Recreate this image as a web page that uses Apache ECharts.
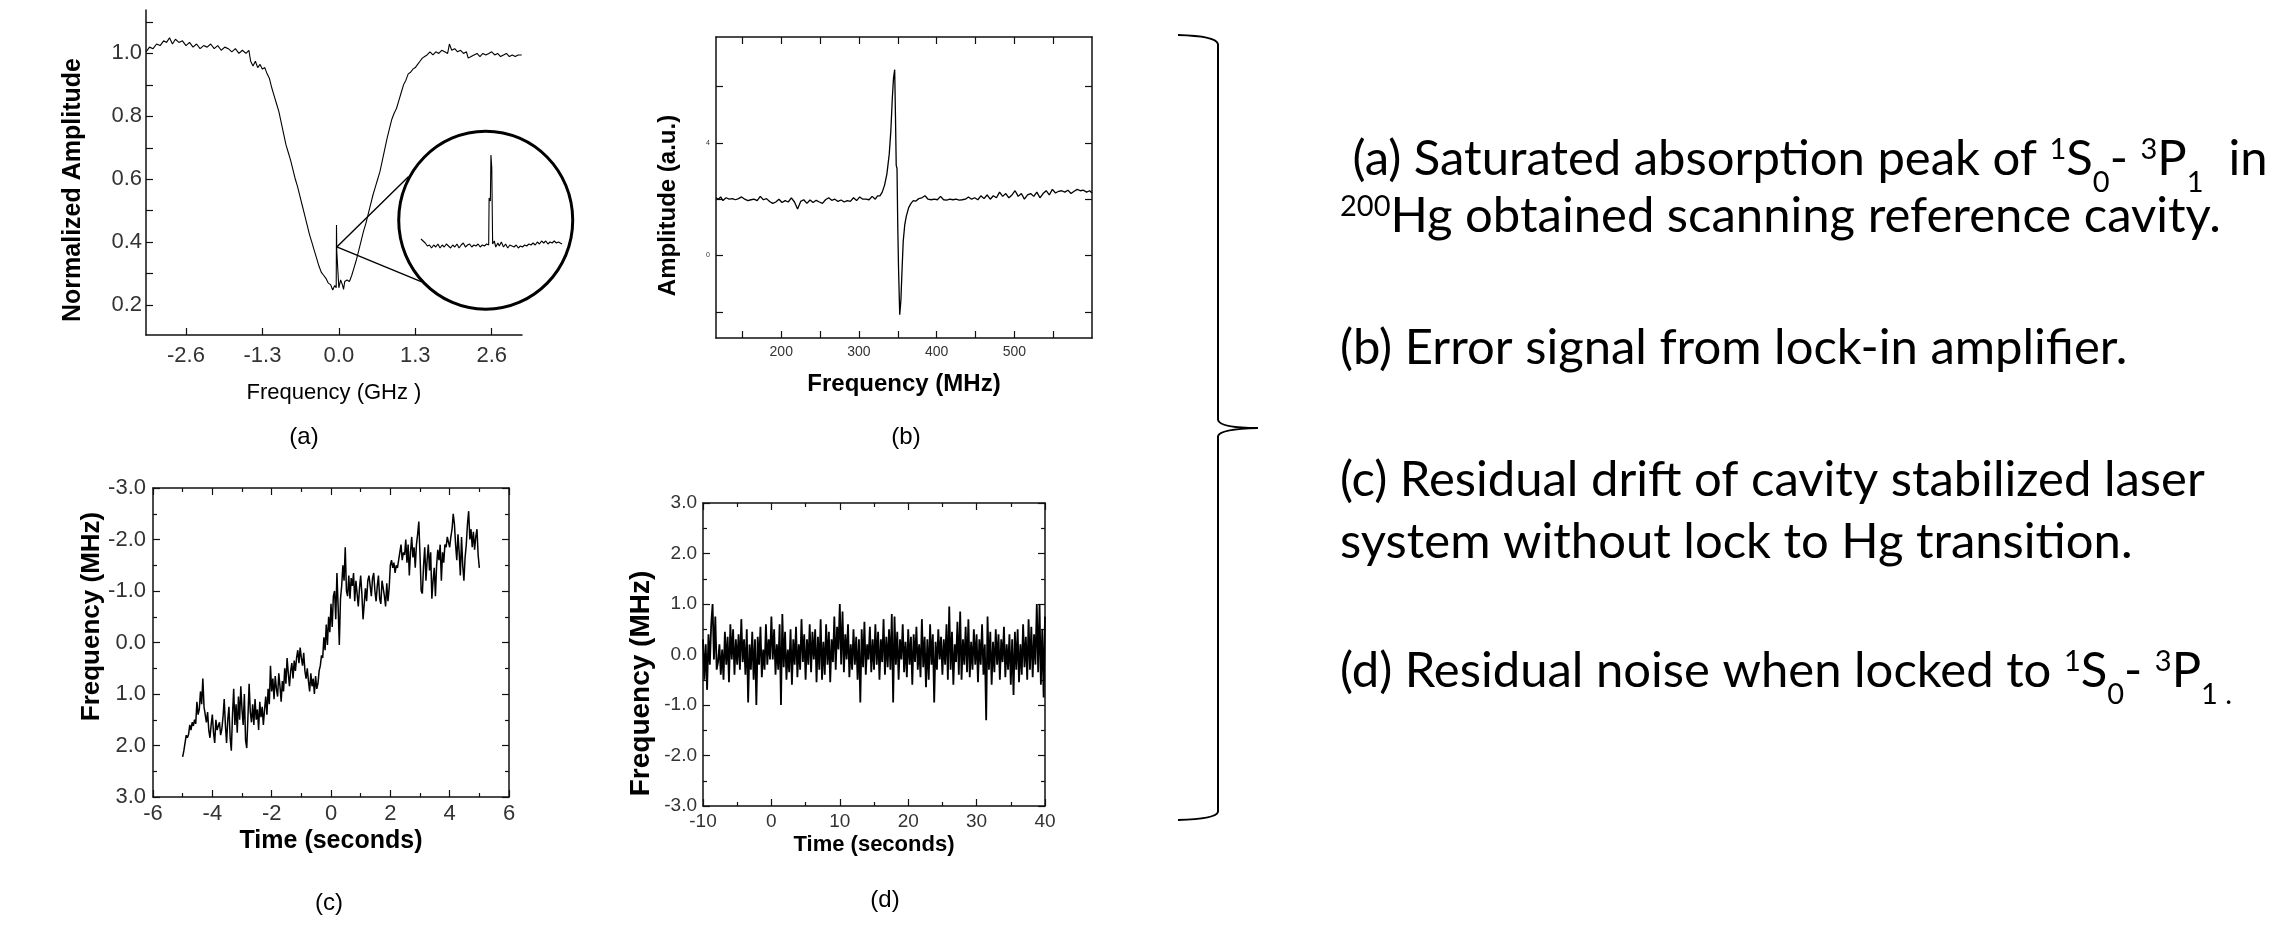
<!DOCTYPE html>
<html>
<head>
<meta charset="utf-8">
<script src="https://cdn.jsdelivr.net/npm/echarts@6.0.0/dist/echarts.min.js"></script>
<style>
  html, body { margin: 0; background: #fff; }
  #chart { width: 2286px; height: 928px; }
</style>
</head>
<body>
<div id="chart"></div>
<script>
// (a) saturated absorption dip, [GHz, normalized amplitude]
const A_CURVE = [
  [-3.28,1.005],[-3.22,1.02],[-3.16,1.015],[-3.1,1.03],[-3.04,1.025],[-2.98,1.04],[-2.93,1.035],[-2.88,1.05],
  [-2.83,1.03],[-2.78,1.045],[-2.72,1.035],[-2.66,1.04],[-2.6,1.025],[-2.54,1.035],[-2.48,1.02],[-2.42,1.03],
  [-2.36,1.015],[-2.3,1.025],[-2.24,1.02],[-2.18,1.03],[-2.12,1.015],[-2.06,1.025],[-2.0,1.01],[-1.94,1.02],
  [-1.88,1.015],[-1.82,1.005],[-1.76,1.015],[-1.7,1.0],[-1.64,1.01],[-1.58,1.0],[-1.53,1.01],[-1.5,0.975],
  [-1.46,0.96],[-1.42,0.975],[-1.38,0.955],[-1.34,0.965],[-1.3,0.95],[-1.26,0.955],[-1.22,0.935],[-1.18,0.92],
  [-1.14,0.89],[-1.1,0.865],[-1.06,0.84],[-1.02,0.815],[-0.98,0.78],[-0.94,0.745],[-0.9,0.71],[-0.86,0.685],
  [-0.82,0.66],[-0.78,0.63],[-0.74,0.6],[-0.7,0.575],[-0.66,0.545],[-0.62,0.515],[-0.58,0.485],[-0.54,0.455],
  [-0.5,0.425],[-0.46,0.4],[-0.42,0.375],[-0.38,0.35],[-0.34,0.325],[-0.3,0.305],[-0.26,0.295],[-0.22,0.285],
  [-0.18,0.27],[-0.14,0.265],[-0.105,0.248],[-0.07,0.262],[-0.045,0.255],[-0.04,0.455],[-0.035,0.37],[-0.005,0.375],
  [0.0,0.255],[0.03,0.28],[0.06,0.265],[0.08,0.25],[0.1,0.275],[0.14,0.28],[0.18,0.275],[0.22,0.295],
  [0.26,0.32],[0.3,0.345],[0.34,0.375],[0.38,0.405],[0.42,0.435],[0.46,0.46],[0.5,0.49],[0.54,0.52],
  [0.58,0.55],[0.62,0.575],[0.66,0.6],[0.7,0.625],[0.74,0.66],[0.78,0.695],[0.82,0.73],[0.86,0.76],
  [0.9,0.79],[0.94,0.81],[0.98,0.825],[1.02,0.85],[1.06,0.875],[1.1,0.9],[1.14,0.915],[1.18,0.935],
  [1.22,0.94],[1.26,0.95],[1.3,0.955],[1.34,0.965],[1.38,0.975],[1.42,0.985],[1.46,0.99],[1.5,0.995],
  [1.55,1.005],[1.6,0.995],[1.65,1.005],[1.7,1.0],[1.75,1.01],[1.8,1.005],[1.85,1.0],[1.88,1.03],
  [1.92,1.01],[1.97,1.015],[2.02,1.005],[2.07,1.01],[2.12,1.0],[2.17,1.005],[2.2,0.985],[2.25,0.99],
  [2.3,0.995],[2.35,1.0],[2.4,0.99],[2.45,1.0],[2.5,0.995],[2.55,1.0],[2.6,1.005],[2.65,0.995],
  [2.7,1.0],[2.75,0.99],[2.8,0.995],[2.85,1.0],[2.9,0.99],[2.95,0.995],[3.0,0.99],[3.05,0.995],[3.11,0.995]
];
// zoom lines from the peak to the magnifier circle (data coords of panel a)
const A_ZOOM_LINES = [[1.183, 0.608], [-0.035, 0.385], [1.41, 0.274]];
const A_LENS_CENTER = [2.498, 0.47];
// magnified peak inside the circle (arbitrary units 0..100, 0..1)
const A_INSET = [
  [0,0.14],[1.5,0.12],[3,0.1],[4.5,0.07],[6,0.08],[7.5,0.05],[9,0.08],[10.5,0.06],[12,0.09],[13.5,0.05],
  [15,0.08],[16.5,0.06],[18,0.09],[19.5,0.07],[21,0.05],[22.5,0.08],[24,0.06],[25.5,0.09],[27,0.05],[28.5,0.08],
  [30,0.1],[31.5,0.06],[33,0.08],[34.5,0.09],[36,0.06],[37.5,0.08],[39,0.07],[40.5,0.09],[42,0.06],[43.5,0.08],
  [45,0.07],[46.5,0.09],[48,0.08],[48.3,0.55],[49.2,0.52],[49.6,0.98],[50.2,0.85],[50.8,0.09],[52,0.12],[53,0.06],
  [54.5,0.1],[55.5,0.07],[57,0.11],[58.5,0.06],[60,0.09],[61.5,0.05],[63,0.08],[64.5,0.07],[66,0.06],[67.5,0.08],
  [69,0.05],[70.5,0.07],[72,0.06],[73.5,0.08],[75,0.07],[76.5,0.09],[78,0.08],[79.5,0.1],[81,0.08],[82.5,0.11],
  [84,0.09],[85.5,0.12],[87,0.1],[88.5,0.12],[90,0.09],[91.5,0.11],[93,0.1],[94.5,0.12],[96,0.1],[97.5,0.11],[100,0.09]
];
const A_X_LABELS = [-2.6, -1.3, 0, 1.3, 2.6];
const A_Y_LABELS = [0.2, 0.4, 0.6, 0.8, 1.0];
const A_Y_TICKS = [0.2, 0.3, 0.4, 0.5, 0.6, 0.7, 0.8, 0.9, 1.0, 1.1];

// (b) lock-in error signal, [MHz, a.u.]
const B_CURVE = [
  [116,2.05],[119,2.0],[122,2.08],[125,1.95],[129,2.05],[133,2.0],[137,2.02],[141,1.98],[145,2.02],[149,2.08],
  [153,2.0],[157,1.95],[161,1.98],[165,2.0],[169,1.95],[173,2.1],[177,1.98],[181,2.02],[185,1.92],[189,1.85],
  [193,1.9],[197,2.0],[201,1.88],[205,1.95],[209,1.9],[213,2.05],[217,1.9],[221,1.65],[225,1.92],[229,1.98],
  [233,1.85],[237,1.97],[241,1.88],[245,1.96],[249,1.9],[253,1.85],[257,1.98],[261,2.05],[265,1.96],[269,2.0],
  [273,1.92],[277,1.97],[281,1.9],[285,1.95],[289,1.92],[293,2.05],[297,1.95],[301,2.08],[305,2.0],[309,2.0],
  [313,1.98],[317,2.1],[321,2.0],[324,2.12],[327,2.12],[330,2.25],[333,2.5],[336,2.9],[339,3.6],[341,4.4],
  [343,5.6],[344.5,6.3],[346,6.6],[347,5.0],[348,3.2],[349,3.1],[350,1.0],[351,-0.5],[352.5,-2.1],[354,-1.6],
  [355.5,-0.5],[357,0.5],[359,1.1],[361,1.4],[364,1.7],[367,1.85],[370,1.95],[373,1.93],[377,2.02],[381,2.05],
  [385,2.12],[389,2.0],[393,1.98],[397,2.0],[401,1.98],[405,2.1],[409,1.98],[413,1.97],[417,2.0],[421,1.98],
  [425,2.0],[429,1.97],[433,1.98],[437,2.0],[441,2.08],[445,2.0],[449,2.05],[453,1.98],[457,2.12],[461,2.02],
  [465,2.15],[469,2.0],[473,2.12],[477,2.05],[481,2.25],[485,2.1],[489,2.2],[493,2.05],[497,2.15],[501,2.3],
  [505,2.1],[509,2.2],[513,2.0],[517,2.15],[521,2.2],[525,2.1],[529,2.25],[533,2.05],[537,2.2],[541,2.3],
  [545,2.15],[549,2.35],[553,2.22],[557,2.28],[561,2.3],[565,2.25],[569,2.32],[573,2.2],[577,2.28],[581,2.35],
  [585,2.3],[589,2.32],[593,2.25],[597,2.3],[600,2.22]
];
const B_X_LABELS = [200, 300, 400, 500];
const B_X_TICKS = [150, 200, 250, 300, 350, 400, 450, 500, 550];
const B_Y_TICKS = [-2, 0, 2, 4, 6];
const B_Y_LABELS = [0, 4];

// (c) free-running drift, sampled every 0.04 s from -5 s [MHz]
const C_T0 = -5, C_DT = 0.04;
const C_VALUES = [
  2.22,2.1,1.95,1.8,1.85,1.78,1.6,1.7,1.55,1.62,1.5,1.58,1.15,1.4,1.3,0.95,1.2,0.7,1.25,1.4,1.55,1.35,1.7,1.85,1.6,
  1.4,1.75,1.95,1.5,1.7,1.62,1.55,1.8,1.68,1.45,1.1,1.6,1.95,1.5,1.25,1.85,2.1,1.4,0.9,1.6,1.2,1.75,1.05,1.5,0.85,
  1.3,1.6,1.0,1.9,2.05,1.45,0.8,1.35,1.55,1.2,1.6,1.1,1.5,1.3,1.7,1.15,1.45,1.25,1.6,1.3,1.05,1.4,0.9,1.2,0.45,
  0.95,0.7,1.1,0.65,0.9,1.05,0.6,0.85,1.15,0.75,0.95,0.5,0.8,0.3,0.6,0.85,0.55,0.4,0.7,0.35,0.55,0.3,0.15,0.4,0.1,
  0.3,0.45,0.2,0.55,0.7,0.5,0.75,0.95,0.6,0.85,0.7,1.0,0.65,0.9,0.8,0.55,0.45,0.25,0.3,-0.1,0.15,-0.35,0.05,-0.5,-0.2,
  -0.75,-0.3,-0.9,-1.0,-0.45,-1.35,-0.7,0.05,-0.85,-1.1,-1.5,-1.2,-1.85,-1.0,-0.9,-1.3,-0.85,-1.25,-1.1,-1.35,-0.8,-1.2,-0.95,-0.7,-1.05,
  -1.3,-0.95,-0.45,-0.75,-1.05,-0.8,-1.2,-1.3,-1.1,-0.9,-1.25,-1.35,-1.0,-0.8,-1.1,-1.3,-0.85,-0.75,-1.2,-1.05,-0.9,-0.7,-1.15,-0.8,-1.05,
  -1.5,-1.6,-1.45,-1.55,-1.35,-1.5,-1.45,-1.6,-1.75,-1.9,-1.6,-1.75,-1.7,-2.0,-1.55,-1.9,-1.3,-1.75,-2.05,-1.65,-1.85,-1.45,-1.9,-2.1,-2.35,
  -1.7,-1.0,-0.95,-1.5,-1.85,-1.2,-1.6,-1.9,-1.4,-1.75,-0.85,-1.2,-1.45,-0.9,-1.5,-1.8,-1.6,-1.9,-1.2,-1.75,-1.55,-1.9,-1.85,-2.05,-1.95,
  -1.85,-2.05,-2.2,-2.5,-2.3,-1.9,-1.6,-2.1,-1.75,-1.3,-2.05,-1.5,-1.2,-1.65,-1.9,-2.3,-2.55,-2.0,-2.2,-1.85,-2.15,-1.8,-2.05,-2.2,-1.7,
  -1.45
];

// (d) locked residual noise, sampled every 0.2 s from -10 s [MHz]
const D_T0 = -10, D_DT = 0.2;
const D_VALUES = [
  0.3,-0.5,0.2,-0.7,0.4,-0.2,0.6,1.0,-0.1,0.75,-0.3,-0.15,0.2,-0.4,0.1,-0.5,0.45,-0.2,0.35,-0.55,0.6,-0.1,0.5,-0.4,0.3,
  -0.2,0.4,-0.3,0.7,-0.15,0.3,-0.4,0.5,-0.95,0.2,-0.3,0.45,-0.5,0.3,-1.0,0.35,-0.2,0.55,-0.45,0.1,-0.3,0.6,-0.2,0.3,-0.1,
  0.75,-0.1,0.5,-0.4,0.2,-0.3,0.6,-1.0,0.8,-0.25,0.45,-0.5,0.1,-0.35,0.5,-0.6,0.3,-0.2,0.55,-0.45,0.2,-0.3,0.7,-0.15,0.4,
  -0.5,0.3,-0.2,0.6,-0.35,0.45,-0.1,0.5,-0.55,0.35,-0.3,0.7,-0.5,0.25,-0.4,0.6,-0.2,0.45,-0.55,0.3,-0.15,0.75,-0.3,0.55,0.1,
  1.0,-0.2,0.85,-0.35,0.4,-0.1,0.6,-0.45,0.2,-0.3,0.5,-0.2,0.35,-0.5,0.3,-0.95,0.5,-0.25,0.65,-0.4,0.2,-0.1,0.55,-0.35,0.3,
  -0.3,0.6,-0.2,0.45,-0.5,0.3,-0.15,0.7,-0.4,0.35,-0.25,0.5,-0.3,0.8,-0.95,0.75,-0.2,0.45,-0.5,0.3,-0.1,0.6,-0.35,0.25,-0.45,
  0.5,-0.2,0.35,-0.6,0.4,-0.15,0.55,-0.3,0.2,-0.45,0.7,-0.25,0.35,-0.65,0.3,-0.5,0.6,-0.2,0.4,-0.95,0.25,-0.3,0.5,-0.1,0.35,
  -0.4,0.3,-0.2,0.6,-0.5,0.95,-0.3,0.45,-0.6,0.2,-0.15,0.65,-0.4,0.85,-0.5,0.3,-0.2,0.55,-0.35,0.7,-0.45,0.25,-0.3,0.5,-0.2,
  0.4,-0.55,0.3,-0.2,0.6,-0.4,0.2,-1.3,0.75,-0.3,0.45,-0.6,0.25,-0.35,0.5,-0.2,0.4,-0.5,0.3,-0.15,0.55,-0.45,0.2,-0.3,0.4,
  -0.6,0.3,-0.8,0.45,-0.3,0.5,-0.55,0.2,-0.4,0.6,-0.25,0.35,-0.5,0.7,-0.3,0.55,-0.45,0.4,-0.2,1.0,-0.35,1.0,-0.6,0.5,-0.85,
  0.75
];

const ARIAL = 'Liberation Sans';

function frameAxis(o) {
  const ax = {
    type: 'value',
    gridIndex: o.grid,
    position: o.pos,
    min: o.min,
    max: o.max,
    inverse: !!o.inverse,
    axisLine: { show: true, onZero: false, lineStyle: { color: '#111', width: 1.5 } },
    axisTick: { show: true, inside: true, length: 7, lineStyle: { color: '#111', width: 1.2 } },
    minorTick: { show: !!o.minor, splitNumber: 2, length: 4, lineStyle: { color: '#111', width: 1.2 } },
    splitLine: { show: false },
    minorSplitLine: { show: false },
    axisLabel: {
      show: !!o.fontSize,
      color: '#333',
      fontFamily: ARIAL,
      fontSize: o.fontSize || 12,
      margin: o.margin || 6,
      formatter: o.fmt
    },
    name: o.name || '',
    nameLocation: 'middle',
    nameGap: o.nameGap || 0,
    nameMoveOverlap: false,
    nameTextStyle: {
      color: '#000',
      fontFamily: ARIAL,
      fontWeight: o.nameBold === false ? 'normal' : 'bold',
      fontSize: o.nameSize || 22,
      padding: o.namePad || 0
    }
  };
  if (o.interval != null) ax.interval = o.interval;
  if (o.ticks) ax.axisTick.customValues = o.ticks;
  if (o.labels) ax.axisLabel.customValues = o.labels;
  return ax;
}

const fix1 = v => v.toFixed(1);
const int0 = v => String(Math.round(v));

const chart = echarts.init(document.getElementById('chart'), null, { renderer: 'canvas' });

const lineSeries = (x, y, data, width) => ({
  type: 'line', xAxisIndex: x, yAxisIndex: y, data: data,
  showSymbol: false, symbol: 'none', silent: true,
  lineStyle: { color: '#000', width: width }
});

// caption text on the right; baseline of the main font sits 42.8px below the box top
const noteRich = {
  m: { fontFamily: 'Lato', fontSize: 49, lineHeight: 54, verticalAlign: 'top', fill: '#000' },
  sup: { fontFamily: 'Lato', fontSize: 29, lineHeight: 30, verticalAlign: 'top', fill: '#000' },
  sub: { fontFamily: 'Lato', fontSize: 29, lineHeight: 30, verticalAlign: 'top', padding: [33, 0, 0, 0], fill: '#000' }
};
const notes = [
  { y: 178, text: '{m| (a) Saturated absorption peak of }{sup|1}{m|S}{sub|0}{m|- }{sup|3}{m|P}{sub|1}{m|  in}' },
  { y: 235, text: '{sup|200}{m|Hg obtained scanning reference cavity.}' },
  { y: 367, text: '{m|(b) Error signal from lock-in amplifier.}' },
  { y: 499, text: '{m|(c) Residual drift of cavity stabilized laser}' },
  { y: 561, text: '{m|system without lock to Hg transition.}' },
  { y: 690, text: '{m|(d) Residual noise when locked to }{sup|1}{m|S}{sub|0}{m|- }{sup|3}{m|P}{sub|1 .}' }
];

chart.setOption({
  animation: false,
  backgroundColor: '#fff',
  grid: [
    { left: 146, top: 10, width: 376, height: 325, outerBoundsMode: 'none' },
    { left: 716, top: 37, width: 376, height: 301, outerBoundsMode: 'none' },
    { left: 153, top: 488, width: 356, height: 309, outerBoundsMode: 'none' },
    { left: 703, top: 503, width: 342, height: 303, outerBoundsMode: 'none' },
    { left: 421, top: 153, width: 141, height: 100, outerBoundsMode: 'none' }
  ],
  xAxis: [
    frameAxis({ grid: 0, pos: 'bottom', min: -3.28, max: 3.115, ticks: A_X_LABELS, labels: A_X_LABELS,
      fontSize: 22, margin: 10, fmt: fix1, name: 'Frequency (GHz )', nameBold: false, nameSize: 22, nameGap: 47 }),
    frameAxis({ grid: 1, pos: 'bottom', min: 116, max: 600, ticks: B_X_TICKS, labels: B_X_LABELS,
      fontSize: 14, margin: 7, fmt: int0, name: 'Frequency (MHz)', nameSize: 24, nameGap: 34 }),
    frameAxis({ grid: 1, pos: 'top', min: 116, max: 600, ticks: B_X_TICKS }),
    frameAxis({ grid: 2, pos: 'bottom', min: -6, max: 6, interval: 2, minor: true,
      fontSize: 22, margin: 6, fmt: int0, name: 'Time (seconds)', nameSize: 25, nameGap: 32 }),
    frameAxis({ grid: 2, pos: 'top', min: -6, max: 6, interval: 2, minor: true }),
    frameAxis({ grid: 3, pos: 'bottom', min: -10, max: 40, interval: 10, minor: true,
      fontSize: 19, margin: 6, fmt: int0, name: 'Time (seconds)', nameSize: 22, nameGap: 28 }),
    frameAxis({ grid: 3, pos: 'top', min: -10, max: 40, interval: 10, minor: true }),
    { type: 'value', gridIndex: 4, min: 0, max: 100, show: false }
  ],
  yAxis: [
    frameAxis({ grid: 0, pos: 'left', min: 0.105, max: 1.138, ticks: A_Y_TICKS, labels: A_Y_LABELS,
      fontSize: 22, margin: 4, fmt: fix1, name: 'Normalized Amplitude', nameSize: 25, nameGap: 60, namePad: [0, 35, 0, 0] }),
    frameAxis({ grid: 1, pos: 'left', min: -2.93, max: 7.76, ticks: B_Y_TICKS, labels: B_Y_LABELS,
      fontSize: 7, margin: 6, fmt: int0, name: 'Amplitude (a.u.)', nameSize: 24, nameGap: 36, namePad: [0, 36, 0, 0] }),
    frameAxis({ grid: 1, pos: 'right', min: -2.93, max: 7.76, ticks: B_Y_TICKS }),
    frameAxis({ grid: 2, pos: 'left', min: -3, max: 3, interval: 1, minor: true, inverse: true,
      fontSize: 22, margin: 7, fmt: fix1, name: 'Frequency (MHz)', nameSize: 26, nameGap: 48, namePad: [0, 0, 0, 52] }),
    frameAxis({ grid: 2, pos: 'right', min: -3, max: 3, interval: 1, minor: true, inverse: true }),
    frameAxis({ grid: 3, pos: 'left', min: -3, max: 3, interval: 1, minor: true,
      fontSize: 19, margin: 6, fmt: fix1, name: 'Frequency (MHz)', nameSize: 28, nameGap: 48, namePad: [0, 58, 0, 0] }),
    frameAxis({ grid: 3, pos: 'right', min: -3, max: 3, interval: 1, minor: true }),
    { type: 'value', gridIndex: 4, min: 0, max: 1, show: false }
  ],
  series: [
    lineSeries(0, 0, A_CURVE, 1.1),
    lineSeries(0, 0, A_ZOOM_LINES, 1.4),
    lineSeries(7, 7, A_INSET, 1.1),
    lineSeries(1, 1, B_CURVE, 1.3),
    lineSeries(3, 3, C_VALUES.map((v, i) => [C_T0 + i * C_DT, v]), 1.5),
    lineSeries(5, 5, D_VALUES.map((v, i) => [D_T0 + i * D_DT, v]), 1.8)
  ]
});

// magnifier circle centred on the lens position of panel (a)
const lens = chart.convertToPixel({ gridIndex: 0 }, A_LENS_CENTER);
const panelTag = (text, x, y) => ({
  type: 'text', x: x, y: y, silent: true,
  style: { text: text, font: '24px "Liberation Sans"', fill: '#000', align: 'center', verticalAlign: 'middle' }
});
const stroke = { fill: 'none', stroke: '#000', lineWidth: 2 };
const curl = (x1, y1, cx, cy, x2, y2) => ({
  type: 'bezierCurve', silent: true, shape: { x1: x1, y1: y1, cpx1: cx, cpy1: cy, x2: x2, y2: y2 }, style: stroke
});
const seg = (x1, y1, x2, y2) => ({
  type: 'line', silent: true, shape: { x1: x1, y1: y1, x2: x2, y2: y2 }, style: stroke
});

chart.setOption({
  graphic: [
    { type: 'ellipse', silent: true, shape: { cx: lens[0], cy: lens[1], rx: 87, ry: 89 },
      style: { fill: 'none', stroke: '#000', lineWidth: 3 } },
    panelTag('(a)', 304, 437),
    panelTag('(b)', 906, 437),
    panelTag('(c)', 329, 903),
    panelTag('(d)', 885, 900),
    // right-hand brace
    curl(1178, 35, 1216, 36, 1218, 44),
    seg(1218, 44, 1218, 420),
    curl(1218, 420, 1220, 428, 1258, 428),
    curl(1258, 428, 1220, 429, 1218, 436),
    seg(1218, 436, 1218, 812),
    curl(1218, 812, 1216, 819, 1178, 820)
  ].concat(notes.map(n => ({
    type: 'text', x: 1340, y: n.y - 42.8, silent: true,
    style: { text: n.text, rich: noteRich, align: 'left', verticalAlign: 'top', fill: '#000' }
  })))
});
</script>
</body>
</html>
